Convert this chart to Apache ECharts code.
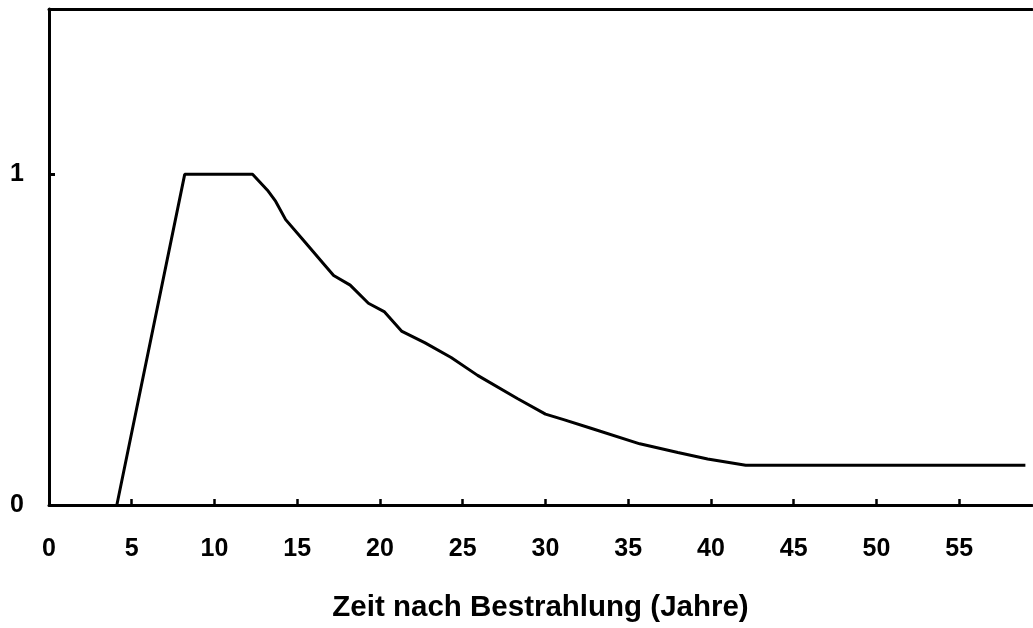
<!DOCTYPE html>
<html>
<head>
<meta charset="utf-8">
<script src="https://cdn.jsdelivr.net/npm/echarts@6/dist/echarts.min.js"></script>
<style>
html,body{margin:0;padding:0;background:#fff;}
#chart{width:1033px;height:628px;}
</style>
</head>
<body>
<div id="chart"></div>
<script>
// Data (years after irradiation, relative risk)
var years = [4.1, 8.2, 12.3, 13.2, 13.7, 14.3, 15.4, 16.6, 17.2, 18.2, 19.3, 20.25, 21.3, 22.7, 24.3, 25.9, 28.3, 30.0, 31.1, 32.7, 35.7, 38.0, 39.8, 42.1, 59.0];
var risk  = [0.0, 1.0, 1.0, 0.952, 0.918, 0.863, 0.799, 0.729, 0.694, 0.665, 0.610, 0.585, 0.526, 0.491, 0.446, 0.392, 0.322, 0.275, 0.258, 0.233, 0.185, 0.159, 0.139, 0.12, 0.12];
var xTickLabels = [0, 5, 10, 15, 20, 25, 30, 35, 40, 45, 50, 55];
var yTickLabels = [0, 1];
var xTitle = 'Zeit nach Bestrahlung (Jahre)';

var pts = years.map(function (x, i) { return [x, risk[i]]; });
var font = 'Liberation Sans, Arial, Helvetica, sans-serif';

var chart = echarts.init(document.getElementById('chart'), null, {renderer: 'canvas'});
chart.setOption({
  animation: false,
  backgroundColor: '#ffffff',
  grid: {left: 49, right: 1, top: 9, bottom: 113, containLabel: false},
  xAxis: [{
    type: 'value', min: 0, max: 59.4, interval: 5,
    axisLine: {show: true, lineStyle: {color: '#000', width: 3}},
    axisTick: {show: true, inside: true, length: 6, lineStyle: {color: '#000', width: 2.5}},
    splitLine: {show: false},
    axisLabel: {
      show: true, margin: 32, color: '#000', fontSize: 25, fontWeight: 'bold', fontFamily: font,
      showMaxLabel: false,
      formatter: function (v) { return xTickLabels.indexOf(v) >= 0 ? String(v) : ''; }
    },
    name: xTitle, nameLocation: 'middle', nameGap: 88,
    nameTextStyle: {color: '#000', fontSize: 29.5, fontWeight: 'bold', fontFamily: font}
  }, {
    type: 'value', min: 0, max: 59.4, position: 'top',
    axisLine: {show: true, lineStyle: {color: '#000', width: 3}},
    axisTick: {show: false}, axisLabel: {show: false}, splitLine: {show: false}
  }],
  yAxis: [{
    type: 'value', min: 0, max: 1.5, interval: 1,
    axisLine: {show: true, lineStyle: {color: '#000', width: 3}},
    axisTick: {show: true, inside: true, length: 6, lineStyle: {color: '#000', width: 3}},
    splitLine: {show: false},
    axisLabel: {
      show: true, margin: 25, color: '#000', fontSize: 25, fontWeight: 'bold', fontFamily: font,
      showMaxLabel: false,
      formatter: function (v) { return yTickLabels.indexOf(v) >= 0 ? String(v) : ''; }
    }
  }],
  series: [{
    type: 'line', xAxisIndex: 0, yAxisIndex: 0,
    data: pts, showSymbol: false, symbol: 'none',
    lineStyle: {color: '#000', width: 3},
    z: 5
  }]
});
</script>
</body>
</html>
